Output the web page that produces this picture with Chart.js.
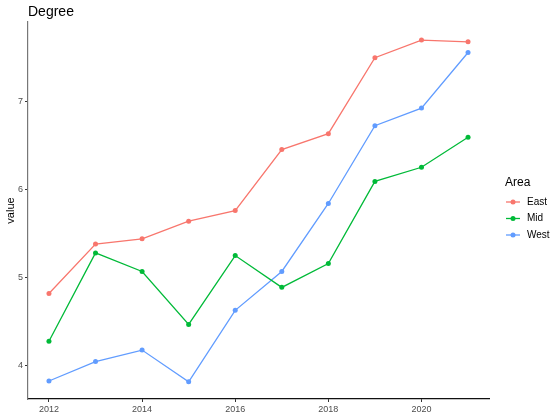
<!DOCTYPE html>
<html>
<head>
<meta charset="utf-8">
<script src="https://cdn.jsdelivr.net/npm/chart.js@4"></script>
<style>
  html, body { margin: 0; padding: 0; background: #fff; }
  #wrap { width: 550px; height: 418px; position: relative; }
</style>
</head>
<body>
<div id="wrap"><canvas id="degreeChart"></canvas></div>
<script>
// Data
const years = [2012, 2013, 2014, 2015, 2016, 2017, 2018, 2019, 2020, 2021];
const east = [4.82, 5.38, 5.44, 5.64, 5.76, 6.45, 6.63, 7.49, 7.69, 7.67];
const mid = [4.28, 5.28, 5.07, 4.47, 5.25, 4.89, 5.16, 6.09, 6.25, 6.59];
const west = [3.83, 4.05, 4.18, 3.82, 4.63, 5.07, 5.84, 6.72, 6.92, 7.55];
const xTicks = [2012, 2014, 2016, 2018, 2020];
const yTicks = [4, 5, 6, 7];

const seriesNames = ['East', 'Mid', 'West'];
const seriesColors = ['#F8766D', '#00BA38', '#619CFF'];
const seriesValues = [east, mid, west];

const FONT = "'Liberation Sans', Arial, sans-serif";

// Legend + title drawn by hand, ggplot style
const ggLegend = {
    id: 'ggLegend',
    afterDraw(chart) {
        const ctx = chart.ctx;
        ctx.save();
        ctx.fillStyle = '#000';
        ctx.textBaseline = 'middle';
        ctx.textAlign = 'left';
        ctx.font = '14px ' + FONT;
        ctx.fillText('Degree', 28, 12);

        ctx.font = '12px ' + FONT;
        ctx.fillText('Area', 505, 183);

        ctx.font = '10px ' + FONT;
        seriesNames.forEach((name, i) => {
            const y = 202 + i * 16.5;
            ctx.strokeStyle = seriesColors[i];
            ctx.lineWidth = 1.3;
            ctx.beginPath();
            ctx.moveTo(506, y);
            ctx.lineTo(520, y);
            ctx.stroke();
            ctx.fillStyle = seriesColors[i];
            ctx.beginPath();
            ctx.arc(513, y, 2.5, 0, Math.PI * 2);
            ctx.fill();
            ctx.fillStyle = '#000';
            ctx.fillText(name, 527, y);
        });
        ctx.restore();
    }
};

const datasets = seriesNames.map((name, i) => ({
    label: name,
    data: years.map((yr, j) => ({ x: yr, y: seriesValues[i][j] })),
    borderColor: seriesColors[i],
    backgroundColor: seriesColors[i],
    borderWidth: 1.3,
    pointRadius: 2.5,
    pointBorderWidth: 0,
    pointHoverRadius: 2.5,
    tension: 0
}));

new Chart(document.getElementById('degreeChart'), {
    type: 'line',
    data: { datasets },
    plugins: [ggLegend],
    options: {
        responsive: true,
        maintainAspectRatio: false,
        animation: false,
        layout: { padding: { top: 22, right: 61, left: 0, bottom: 0 } },
        plugins: {
            legend: { display: false },
            title: { display: false },
            tooltip: { enabled: false }
        },
        scales: {
            x: {
                type: 'linear',
                min: 2011.55,
                max: 2021.45,
                afterBuildTicks: scale => { scale.ticks = xTicks.map(v => ({ value: v })); },
                afterFit: scale => { scale.height = 19; },
                grid: { drawOnChartArea: false, tickLength: 3, color: '#333', tickWidth: 1 },
                border: { color: '#111', width: 1.2 },
                ticks: {
                    font: { family: FONT, size: 9 },
                    color: '#4D4D4D',
                    padding: 2,
                    maxRotation: 0,
                    callback: v => String(v)
                }
            },
            y: {
                min: 3.626,
                max: 7.895,
                afterBuildTicks: scale => { scale.ticks = yTicks.map(v => ({ value: v })); },
                afterFit: scale => { scale.width = 28; },
                grid: { drawOnChartArea: false, tickLength: 3, color: '#333', tickWidth: 1 },
                border: { color: '#777', width: 1.2 },
                title: {
                    display: true,
                    text: 'value',
                    font: { family: FONT, size: 11 },
                    color: '#000',
                    padding: { top: 4, bottom: 0 }
                },
                ticks: {
                    font: { family: FONT, size: 9 },
                    color: '#4D4D4D',
                    padding: 2
                }
            }
        }
    }
});
</script>
</body>
</html>
